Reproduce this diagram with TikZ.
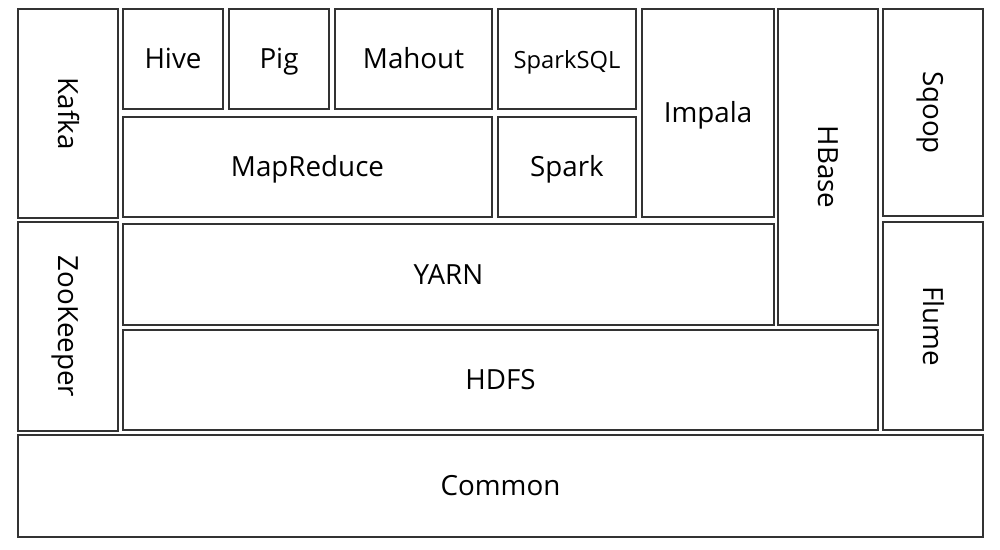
\documentclass[tikz,border=0pt]{standalone}
\usepackage{fontspec}
\setmainfont{Open Sans}

\begin{document}
\begin{tikzpicture}[
   x=0.02cm, y=-0.02cm,
   box/.style={draw=black!80, line width=1.1pt, inner sep=0pt,
               text height=12pt, text depth=0.8pt,
               minimum width=2cm, minimum height=2cm},
   vbox/.style={box, rotate=-90},
   every node/.append style={font=\fontsize{15.8}{18}\selectfont}
]
\useasboundingbox (0,0) rectangle (1000,550);
% left column
\node[vbox, minimum width=4.18cm] (kafka) at (68,113.5) {Kafka};
\node[vbox, minimum width=4.18cm] (zookeeper) at (68,326.5) {ZooKeeper};
% top row
\node[box] (hive) at (173,59) {Hive};
\node[box] (pig) at (279,59) {Pig};
\node[box, minimum width=3.14cm] (mahout) at (413.5,59) {Mahout};
\node[box, minimum width=2.76cm, font=\fontsize{13.5}{16}\selectfont] (sparksql) at (567,59) {SparkSQL};
% second row
\node[box, minimum width=7.38cm] (mapreduce) at (307.5,167) {MapReduce};
\node[box, minimum width=2.76cm] (spark) at (567,167) {Spark};
\node[box, minimum width=2.64cm, minimum height=4.16cm] (impala) at (708,113) {Impala};
\node[vbox, minimum width=6.32cm] (hbase) at (828,167) {HBase};
% right column
\node[vbox, minimum width=4.14cm] (sqoop) at (933,112.5) {Sqoop};
\node[vbox, minimum width=4.16cm] (flume) at (933,326) {Flume};
% lower layers
\node[box, minimum width=13.02cm, minimum height=2.02cm] (yarn) at (448.5,274.5) {YARN};
\node[box, minimum width=15.1cm] (hdfs) at (500.5,380) {HDFS};
\node[box, minimum width=19.3cm, minimum height=2.04cm] (common) at (500.5,486) {Common};
\end{tikzpicture}
\end{document}
